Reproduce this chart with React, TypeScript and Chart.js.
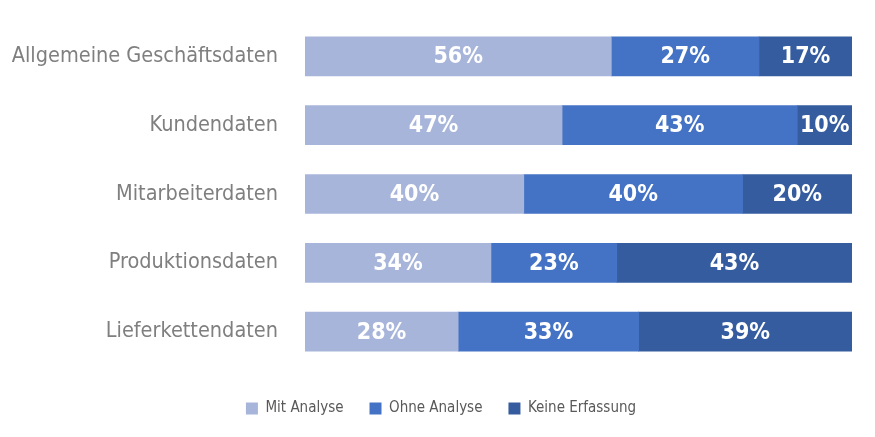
import React, { useEffect, useRef } from "react";
import { Chart, registerables } from "chart.js";

Chart.register(...registerables);

const categories = [
  "Allgemeine Geschäftsdaten",
  "Kundendaten",
  "Mitarbeiterdaten",
  "Produktionsdaten",
  "Lieferkettendaten",
];
const mitAnalyse = [56, 47, 40, 34, 28];
const ohneAnalyse = [27, 43, 40, 23, 33];
const keineErfassung = [17, 10, 20, 43, 39];
const seriesNames = ["Mit Analyse", "Ohne Analyse", "Keine Erfassung"];
const seriesColors = ["#A8B5DA", "#4472C4", "#355C9F"];

const FONT = "'DejaVu Sans Condensed', 'Liberation Sans Narrow', 'Roboto', sans-serif";

const valueLabels = {
  id: "valueLabels",
  afterDatasetsDraw(chart: any) {
    const ctx = chart.ctx;
    ctx.save();
    ctx.fillStyle = "#ffffff";
    ctx.font = `bold 23px ${FONT}`;
    ctx.textAlign = "center";
    ctx.textBaseline = "middle";
    chart.data.datasets.forEach((ds: any, i: number) => {
      const meta = chart.getDatasetMeta(i);
      meta.data.forEach((bar: any, j: number) => {
        const p = bar.getProps(["x", "y", "base"], true);
        const cx = (p.x + p.base) / 2;
        ctx.fillText(`${ds.data[j]}%`, cx, p.y + 1);
      });
    });
    ctx.restore();
  },
};

const legendShift = {
  id: "legendShift",
  afterLayout(chart: any) {
    const lg = chart.legend;
    if (lg) {
      lg.left += 11;
      lg.right += 11;
    }
  },
};

export default function App() {
  const ref = useRef<HTMLCanvasElement | null>(null);
  useEffect(() => {
    if (!ref.current) return;
    const data = [mitAnalyse, ohneAnalyse, keineErfassung];
    const chart = new Chart(ref.current, {
      type: "bar",
      data: {
        labels: categories,
        datasets: data.map((d, i) => ({
          label: seriesNames[i],
          data: d,
          backgroundColor: seriesColors[i],
          borderWidth: 0,
          barThickness: 39,
        })),
      },
      options: {
        indexAxis: "y",
        animation: false,
        responsive: true,
        maintainAspectRatio: false,
        layout: { padding: { top: 14, right: 15, bottom: 3, left: 0 } },
        scales: {
          x: { stacked: true, display: false, min: 0, max: 100 },
          y: {
            stacked: true,
            grid: { display: false },
            border: { display: false },
            ticks: {
              color: "#7F7F7F",
              padding: 19,
              font: { family: FONT, size: 21.5 },
            },
            afterFit: (s: any) => {
              s.width = 297;
              s.paddingTop = 0;
              s.paddingBottom = 0;
            },
          },
        },
        plugins: {
          legend: {
            position: "bottom",
            title: { display: true, text: "", padding: 0, font: { size: 9, lineHeight: 1 } },
            labels: {
              color: "#595959",
              boxWidth: 12,
              boxHeight: 12,
              padding: 26,
              font: { family: FONT, size: 15 },
            },
          },
          tooltip: { enabled: false },
        },
      },
      plugins: [valueLabels, legendShift],
    });
    return () => chart.destroy();
  }, []);
  return (
    <div style={{ width: 859, height: 421, position: "relative" }}>
      <canvas ref={ref} />
    </div>
  );
}
